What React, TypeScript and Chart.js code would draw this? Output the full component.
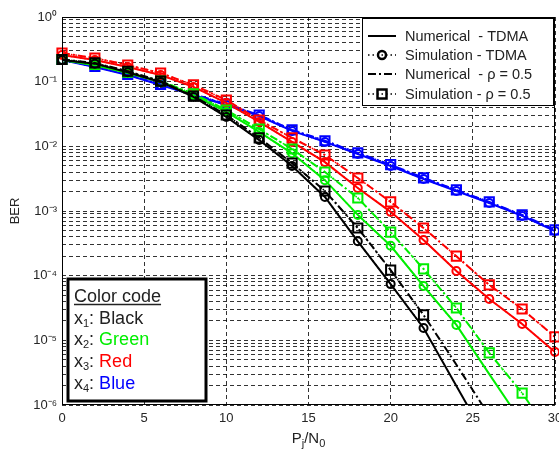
import { useEffect, useRef } from 'react';
import { Chart, registerables } from 'chart.js';
Chart.register(...registerables);

// ---------- data ----------
const snr = [0, 2, 4, 6, 8, 10, 12, 14, 16, 18, 20, 22, 24, 26, 28, 30];
const xTickValues = [0, 5, 10, 15, 20, 25, 30];
const yDecades = [-6, -5, -4, -3, -2, -1, 0];

// x1 (black)
const blackNumTdma = [0.216, 0.19, 0.14, 0.099, 0.058, 0.0284, 0.0125, 0.00497, 0.00165, 3.4e-4, 7.4e-5, 1.55e-5, 1.97e-6, 2.5e-7];
const blackSimTdma = [0.216, 0.19, 0.14, 0.099, 0.058, 0.0284, 0.0125, 0.00497, 0.00165, 3.4e-4, 7.4e-5, 1.55e-5];
const blackNumRho = [0.22, 0.195, 0.145, 0.102, 0.06, 0.0305, 0.0135, 0.0055, 0.00204, 5.46e-4, 1.22e-4, 2.47e-5, 4.2e-6, 6.8e-7];
const blackSimRho = [0.22, 0.195, 0.145, 0.102, 0.06, 0.0305, 0.0135, 0.0055, 0.00204, 5.46e-4, 1.22e-4, 2.47e-5];
// x2 (green)
const greenNumTdma = [0.216, 0.18, 0.136, 0.099, 0.062, 0.034, 0.0167, 0.0078, 0.003, 8.7e-4, 2.9e-4, 6.9e-5, 1.73e-5, 3.0e-6, 5.3e-7];
const greenSimTdma = [0.216, 0.18, 0.136, 0.099, 0.062, 0.034, 0.0167, 0.0078, 0.003, 8.7e-4, 2.9e-4, 6.9e-5, 1.73e-5];
const greenNumRho = [0.22, 0.185, 0.14, 0.102, 0.065, 0.0365, 0.0185, 0.0091, 0.004, 0.00159, 4.7e-4, 1.27e-4, 3.16e-5, 6.4e-6, 1.53e-6, 2.8e-7];
const greenSimRho = [0.22, 0.185, 0.14, 0.102, 0.065, 0.0365, 0.0185, 0.0091, 0.004, 0.00159, 4.7e-4, 1.27e-4, 3.16e-5, 6.4e-6, 1.53e-6];
// x3 (red)
const redNumTdma = [0.258, 0.216, 0.169, 0.127, 0.083, 0.047, 0.0238, 0.0117, 0.0057, 0.00227, 9.7e-4, 3.56e-4, 1.18e-4, 4.36e-5, 1.79e-5, 6.6e-6];
const redSimTdma = [0.258, 0.216, 0.169, 0.127, 0.083, 0.047, 0.0238, 0.0117, 0.0057, 0.00227, 9.7e-4, 3.56e-4, 1.18e-4, 4.36e-5, 1.79e-5, 6.6e-6];
const redNumRho = [0.277, 0.232, 0.181, 0.136, 0.089, 0.052, 0.0255, 0.0135, 0.00734, 0.00324, 0.00138, 5.46e-4, 2.0e-4, 7.2e-5, 3.05e-5, 1.13e-5];
const redSimRho = [0.277, 0.232, 0.181, 0.136, 0.089, 0.052, 0.0255, 0.0135, 0.00734, 0.00324, 0.00138, 5.46e-4, 2.0e-4, 7.2e-5, 3.05e-5, 1.13e-5];
// x4 (blue)
const blueNumTdma = [0.216, 0.169, 0.127, 0.0889, 0.0622, 0.0436, 0.0294, 0.0173, 0.0117, 0.00762, 0.00497, 0.00313, 0.00204, 0.00133, 8.4e-4, 4.9e-4];
const blueSimTdma = [0.216, 0.169, 0.127, 0.0889, 0.0622, 0.0436, 0.0294, 0.0173, 0.0117, 0.00762, 0.00497, 0.00313, 0.00204, 0.00133, 8.4e-4, 4.9e-4];
const blueNumRho = [0.22, 0.172, 0.13, 0.091, 0.064, 0.045, 0.0305, 0.018, 0.0122, 0.0079, 0.0052, 0.00325, 0.00212, 0.00138, 8.7e-4, 5.1e-4];
const blueSimRho = [0.22, 0.172, 0.13, 0.091, 0.064, 0.045, 0.0305, 0.018, 0.0122, 0.0079, 0.0052, 0.00325, 0.00212, 0.00138, 8.7e-4, 5.1e-4];

const legendLabels = ['Numerical  - TDMA', 'Simulation - TDMA', 'Numerical  - \u03C1 = 0.5', 'Simulation - \u03C1 = 0.5'];
const colorCodeTitle = 'Color code';
const colorNames = ['Black', 'Green', 'Red', 'Blue'];
const colorValues = ['#000000', '#00ee00', '#ff0000', '#0000ff'];

const FONT = "'Liberation Sans', Arial, sans-serif";
const DASHDOT = [8, 3, 2, 3];
const DOTTED = [1.5, 3];

function pts(arr: number[]) {
  return arr.map((v, i) => ({ x: snr[i], y: v }));
}

function makeSets() {
  const groups = [
    [blackNumTdma, blackSimTdma, blackNumRho, blackSimRho],
    [greenNumTdma, greenSimTdma, greenNumRho, greenSimRho],
    [redNumTdma, redSimTdma, redNumRho, redSimRho],
    [blueNumTdma, blueSimTdma, blueNumRho, blueSimRho],
  ];
  const sets: any[] = [];
  groups.forEach((g, gi) => {
    const c = colorValues[gi];
    sets.push({ data: pts(g[0]), borderColor: c, borderWidth: 2, pointRadius: 0, borderDash: [] });
    sets.push({
      data: pts(g[1]), borderColor: c, borderWidth: 1.5, borderDash: DOTTED,
      pointStyle: 'circle', pointRadius: 4, pointBorderWidth: 2, pointBorderColor: c,
      pointBackgroundColor: 'rgba(0,0,0,0)', clip: false,
    });
    sets.push({ data: pts(g[2]), borderColor: c, borderWidth: 2, pointRadius: 0, borderDash: DASHDOT });
    sets.push({
      data: pts(g[3]), borderColor: c, borderWidth: 1.5, borderDash: DOTTED,
      pointStyle: 'rect', pointRadius: 6.5, pointBorderWidth: 2, pointBorderColor: c,
      pointBackgroundColor: 'rgba(0,0,0,0)', clip: false,
    });
  });
  return sets;
}

const overlayPlugin = {
  id: 'overlay',
  afterDraw(chart: any) {
    const ctx = chart.ctx as CanvasRenderingContext2D;
    const ca = chart.chartArea;
    const xs = chart.scales.x;
    ctx.save();
    // frame
    ctx.setLineDash([]);
    ctx.strokeStyle = '#000';
    ctx.lineWidth = 1;
    ctx.strokeRect(Math.round(ca.left) + 0.5, Math.round(ca.top) + 0.5, Math.round(ca.right - ca.left) - 1, Math.round(ca.bottom - ca.top) - 1);

    // x tick labels, placed by the x scale
    ctx.fillStyle = '#262626';
    ctx.font = `13px ${FONT}`;
    ctx.textAlign = 'center';
    ctx.textBaseline = 'middle';
    xTickValues.forEach((v) => {
      ctx.fillText(String(v), xs.getPixelForValue(v), ca.bottom + 13);
    });

    // top-right legend
    const lx = 362.5, ly = 18.5, lw = 191, lh = 87;
    ctx.fillStyle = '#fff';
    ctx.fillRect(lx, ly, lw, lh);
    ctx.strokeStyle = '#000';
    ctx.lineWidth = 1;
    ctx.strokeRect(lx, ly, lw, lh);
    const rows = [36, 55, 74, 94];
    const x0 = 368, x1 = 396, mx = 382;
    rows.forEach((y, i) => {
      ctx.strokeStyle = '#000';
      ctx.lineWidth = i % 2 === 0 ? 2 : 1.5;
      ctx.setLineDash(i === 0 ? [] : i === 2 ? DASHDOT : DOTTED);
      ctx.beginPath();
      ctx.moveTo(x0, y);
      ctx.lineTo(x1, y);
      ctx.stroke();
      ctx.setLineDash([]);
      ctx.lineWidth = 2.5;
      if (i === 1) {
        ctx.beginPath();
        ctx.arc(mx, y, 4, 0, Math.PI * 2);
        ctx.stroke();
      } else if (i === 3) {
        ctx.strokeRect(mx - 4.5, y - 4.5, 9, 9);
      }
      ctx.fillStyle = '#222';
      ctx.font = `14.5px ${FONT}`;
      ctx.textBaseline = 'middle';
      ctx.textAlign = 'left';
      ctx.fillText(legendLabels[i], 405, y + 1);
    });

    // color code box
    ctx.fillStyle = '#fff';
    ctx.fillRect(68, 279, 138, 122);
    ctx.strokeStyle = '#000';
    ctx.lineWidth = 3;
    ctx.strokeRect(68, 279, 138, 122);
    ctx.textBaseline = 'alphabetic';
    ctx.textAlign = 'left';
    ctx.fillStyle = '#222';
    ctx.font = `18px ${FONT}`;
    const tx = 74;
    ctx.fillText(colorCodeTitle, tx, 302);
    const tw = ctx.measureText(colorCodeTitle).width;
    ctx.lineWidth = 1.3;
    ctx.strokeStyle = '#222';
    ctx.beginPath();
    ctx.moveTo(tx, 304.5);
    ctx.lineTo(tx + tw, 304.5);
    ctx.stroke();
    const cy = [324, 345, 367, 389];
    colorNames.forEach((name, i) => {
      let x = tx;
      ctx.font = `18px ${FONT}`;
      ctx.fillStyle = '#222';
      ctx.fillText('x', x, cy[i]);
      x += ctx.measureText('x').width;
      ctx.font = `11px ${FONT}`;
      ctx.fillText(String(i + 1), x, cy[i] + 3);
      x += ctx.measureText(String(i + 1)).width;
      ctx.font = `18px ${FONT}`;
      ctx.fillText(': ', x, cy[i]);
      x += ctx.measureText(': ').width;
      ctx.fillStyle = i === 0 ? '#222' : colorValues[i];
      ctx.fillText(name, x, cy[i]);
    });

    // x-axis title with subscripts
    const parts = [
      { t: 'P', s: 15, dy: 0 },
      { t: 'j', s: 11, dy: 4 },
      { t: '/N', s: 15, dy: 0 },
      { t: '0', s: 11, dy: 4 },
    ];
    let total = 0;
    parts.forEach((p) => { ctx.font = `${p.s}px ${FONT}`; total += ctx.measureText(p.t).width; });
    let px = (ca.left + ca.right) / 2 - total / 2;
    ctx.fillStyle = '#222';
    parts.forEach((p) => {
      ctx.font = `${p.s}px ${FONT}`;
      ctx.fillText(p.t, px, 443 + p.dy);
      px += ctx.measureText(p.t).width;
    });
    ctx.restore();
  },
};

const SUP: Record<string, string> = { '-': '\u207B', '0': '\u2070', '1': '\u00B9', '2': '\u00B2', '3': '\u00B3', '4': '\u2074', '5': '\u2075', '6': '\u2076' };

export default function App() {
  const ref = useRef<HTMLCanvasElement>(null);
  useEffect(() => {
    if (!ref.current) return;
    const chart = new Chart(ref.current, {
      type: 'line',
      data: { datasets: makeSets() },
      options: {
        animation: false,
        responsive: false,
        devicePixelRatio: 1,
        layout: { autoPadding: false, padding: { top: 17, right: 4, left: 0, bottom: 0 } },
        plugins: { legend: { display: false }, tooltip: { enabled: false } },
        elements: { line: { tension: 0 } },
        scales: {
          x: {
            type: 'linear',
            min: 0,
            max: 30,
            afterBuildTicks: (s: any) => { s.ticks = xTickValues.map((v) => ({ value: v })); },
            afterFit: (s: any) => { s.height = 47; },
            ticks: { display: false, autoSkip: false, maxRotation: 0 },
            grid: { color: 'rgba(0,0,0,0.8)', drawTicks: false, lineWidth: 1 },
            border: { display: false, dash: [4, 3] },
          },
          y: {
            type: 'logarithmic',
            min: 1e-6,
            max: 1,
            afterBuildTicks: (s: any) => {
              const t: any[] = [];
              yDecades.forEach((e) => {
                for (let k = 1; k <= 9; k++) {
                  if (e === 0 && k > 1) break;
                  t.push({ value: k * Math.pow(10, e) });
                }
              });
              s.ticks = t;
            },
            afterFit: (s: any) => { s.width = 62; },
            ticks: {
              color: '#262626',
              font: { size: 13, family: FONT },
              padding: 5,
              autoSkip: false,
              callback: (v: any) => {
                const e = Math.log10(Number(v));
                if (Math.abs(e - Math.round(e)) > 1e-6) return '';
                const s = String(Math.round(e)).split('').map((c) => SUP[c]).join('');
                return '10' + s;
              },
            },
            grid: { color: 'rgba(0,0,0,0.8)', drawTicks: false, lineWidth: 1 },
            border: { display: false, dash: [4, 3] },
            title: { display: true, text: 'BER', color: '#262626', font: { size: 13, family: FONT }, padding: { top: 8, bottom: 0 } },
          },
        },
      },
      plugins: [overlayPlugin],
    } as any);
    return () => chart.destroy();
  }, []);
  return (
    <div style={{ position: 'fixed', left: 0, top: 0, width: 559, height: 452, background: '#fff' }}>
      <canvas ref={ref} width={559} height={452} style={{ width: 559, height: 452, display: 'block' }} />
    </div>
  );
}
